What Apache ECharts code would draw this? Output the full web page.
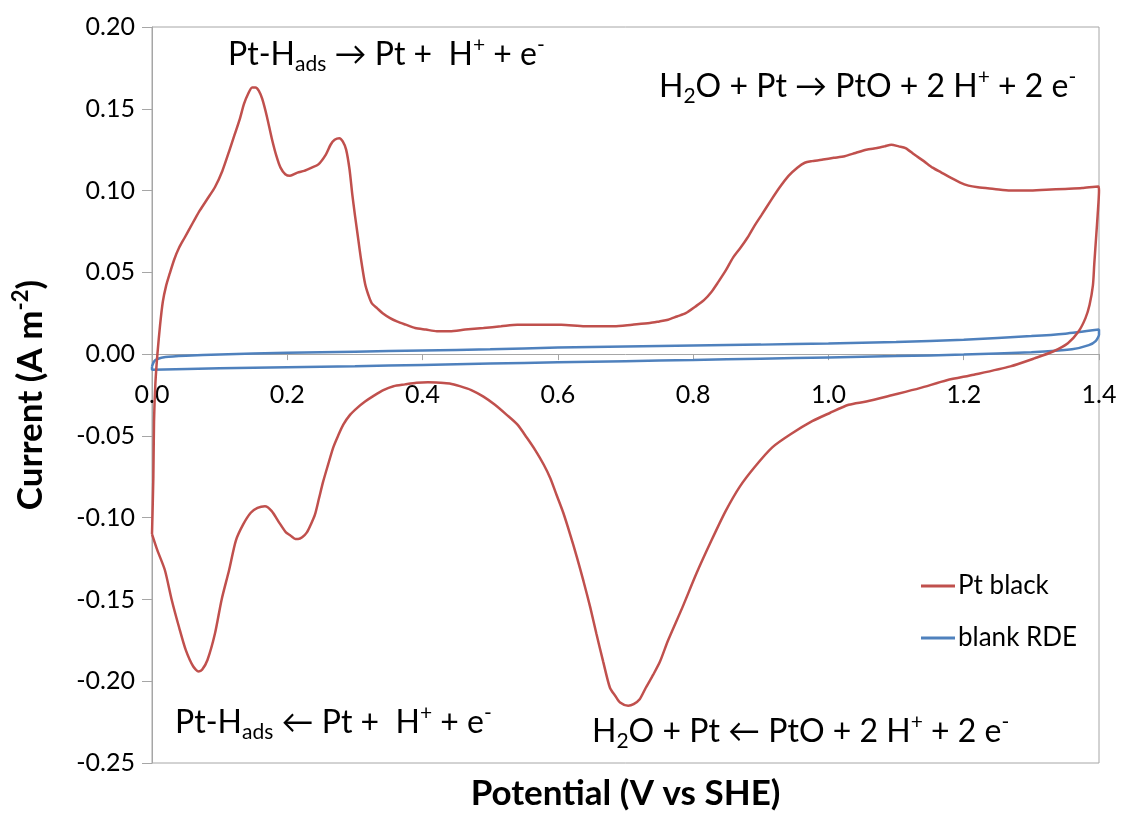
<!DOCTYPE html>
<html>
<head>
<meta charset="utf-8">
<script src="https://cdn.jsdelivr.net/npm/echarts@6/dist/echarts.min.js"></script>
<style>
  html, body { margin: 0; padding: 0; background: #fff; }
  #chart { width: 1125px; height: 818px; }
</style>
</head>
<body>
<div id="chart"></div>
<script>
// Cyclic voltammogram: potential (V vs SHE) and current density (A m^-2), in sweep order
const seriesNames = ['Pt black', 'blank RDE'];

const ptBlackE = [
  0.000, 0.002, 0.003, 0.005, 0.008, 0.012, 0.016, 0.021, 0.026, 0.033, 0.040, 0.048, 0.056, 0.064, 0.071,
  0.082, 0.093, 0.104, 0.114, 0.122, 0.130, 0.136, 0.142, 0.148, 0.153, 0.158, 0.163, 0.170, 0.177, 0.184,
  0.190, 0.197, 0.204, 0.215, 0.225, 0.236, 0.246, 0.257, 0.264, 0.270, 0.277, 0.282, 0.287, 0.292, 0.296,
  0.300, 0.304, 0.309, 0.315, 0.320, 0.325, 0.333, 0.341, 0.352, 0.362, 0.375, 0.389, 0.405, 0.421, 0.440,
  0.463, 0.490, 0.516, 0.540, 0.560, 0.580, 0.605, 0.640, 0.683, 0.710, 0.736, 0.750, 0.763, 0.776, 0.789,
  0.803, 0.816, 0.827, 0.837, 0.848, 0.859, 0.870, 0.880, 0.890, 0.901, 0.915, 0.928, 0.941, 0.954, 0.965,
  0.976, 0.992, 1.008, 1.024, 1.040, 1.056, 1.072, 1.083, 1.093, 1.104, 1.114, 1.127, 1.141, 1.154, 1.167,
  1.180, 1.194, 1.207, 1.221, 1.245, 1.269, 1.295, 1.322, 1.350, 1.375, 1.399,
  1.400, 1.398, 1.396, 1.393, 1.391, 1.386, 1.380, 1.370, 1.354, 1.332, 1.306, 1.269, 1.215, 1.175, 1.135,
  1.095, 1.056, 1.030, 1.002, 0.976, 0.944, 0.917, 0.891, 0.869, 0.848, 0.827, 0.805, 0.784, 0.763, 0.751,
  0.741, 0.730, 0.721, 0.712, 0.704, 0.692, 0.685, 0.677, 0.667, 0.657, 0.648, 0.638, 0.628, 0.618, 0.608,
  0.598, 0.589, 0.579, 0.567, 0.554, 0.540, 0.524, 0.507, 0.490, 0.472, 0.455, 0.440, 0.426, 0.408, 0.391,
  0.374, 0.357, 0.342, 0.327, 0.315, 0.303, 0.293, 0.283, 0.275, 0.268, 0.260, 0.253, 0.247, 0.241, 0.235,
  0.229, 0.222, 0.216, 0.212, 0.205, 0.198, 0.188, 0.177, 0.167, 0.156, 0.146, 0.135, 0.124, 0.114, 0.103,
  0.093, 0.082, 0.074, 0.069, 0.061, 0.050, 0.040, 0.029, 0.019, 0.008, 0.000
];
const ptBlackI = [
  -0.110, -0.075, -0.041, -0.018, 0.000, 0.018, 0.032, 0.042, 0.049, 0.058, 0.065, 0.071, 0.077, 0.083, 0.088,
  0.095, 0.102, 0.112, 0.124, 0.134, 0.144, 0.153, 0.159, 0.163, 0.163, 0.161, 0.156, 0.145, 0.132, 0.121,
  0.114, 0.110, 0.109, 0.111, 0.112, 0.114, 0.116, 0.122, 0.128, 0.131, 0.132, 0.130, 0.125, 0.113, 0.098,
  0.085, 0.073, 0.058, 0.043, 0.036, 0.031, 0.028, 0.025, 0.022, 0.020, 0.018, 0.016, 0.015, 0.014, 0.014,
  0.015, 0.016, 0.017, 0.018, 0.018, 0.018, 0.018, 0.017, 0.017, 0.018, 0.019, 0.020, 0.021, 0.023, 0.025,
  0.029, 0.033, 0.038, 0.044, 0.051, 0.059, 0.065, 0.071, 0.078, 0.085, 0.094, 0.102, 0.109, 0.114, 0.117,
  0.118, 0.119, 0.120, 0.121, 0.123, 0.125, 0.126, 0.127, 0.128, 0.127, 0.126, 0.122, 0.118, 0.114, 0.111,
  0.108, 0.105, 0.103, 0.102, 0.101, 0.100, 0.100, 0.1005, 0.101, 0.1015, 0.1025,
  0.100, 0.085, 0.073, 0.055, 0.042, 0.030, 0.022, 0.014, 0.0067, 0.0016, -0.0024, -0.0075, -0.0126, -0.016, -0.0208,
  -0.025, -0.029, -0.031, -0.036, -0.041, -0.049, -0.057, -0.069, -0.081, -0.096, -0.114, -0.134, -0.155, -0.175, -0.188,
  -0.196, -0.204, -0.211, -0.214, -0.215, -0.213, -0.209, -0.204, -0.188, -0.171, -0.155, -0.139, -0.124, -0.110, -0.097,
  -0.086, -0.076, -0.0675, -0.059, -0.051, -0.043, -0.037, -0.031, -0.026, -0.022, -0.0196, -0.018, -0.0175, -0.0172, -0.0175,
  -0.0185, -0.0196, -0.022, -0.0257, -0.029, -0.033, -0.037, -0.043, -0.050, -0.057, -0.068, -0.078, -0.088, -0.098, -0.104,
  -0.109, -0.112, -0.113, -0.113, -0.111, -0.109, -0.103, -0.096, -0.093, -0.094, -0.097, -0.104, -0.114, -0.132, -0.150,
  -0.171, -0.187, -0.193, -0.194, -0.191, -0.181, -0.167, -0.150, -0.132, -0.120, -0.110
];

const blankE = [
  0.000, 0.003, 0.008, 0.020, 0.050, 0.100, 0.200, 0.300, 0.400, 0.500, 0.600, 0.700, 0.800, 0.900, 1.000,
  1.100, 1.200, 1.300, 1.350, 1.400,
  1.400, 1.395, 1.385, 1.360, 1.300, 1.200, 1.100, 1.000, 0.900, 0.800, 0.700, 0.600, 0.500, 0.400, 0.300,
  0.200, 0.100, 0.000, 0.000
];
const blankI = [
  -0.0075, -0.0045, -0.0030, -0.0018, -0.0010, -0.0002, 0.0008, 0.0015, 0.0022, 0.0030, 0.0040, 0.0047, 0.0053, 0.0058, 0.0065,
  0.0074, 0.0088, 0.0110, 0.0125, 0.0150,
  0.0118, 0.0080, 0.0055, 0.0030, 0.0012, -0.0003, -0.0012, -0.0020, -0.0028, -0.0036, -0.0043, -0.0050, -0.0058, -0.0066, -0.0074,
  -0.0080, -0.0087, -0.0095, -0.0075
];

const xTicks = { min: 0, max: 1.4, step: 0.2 };
const yTicks = { min: -0.25, max: 0.2, step: 0.05 };

const pairs = (xs, ys) => xs.map((x, i) => [x, ys[i]]);

const FONT = 'Lato, "Open Sans", "DejaVu Sans", sans-serif';
const AXIS_GREY = '#a6a6a6';
const RED = '#c0504d';
const BLUE = '#4f81bd';

// plot box in pixels
const GRID = { left: 152, right: 26, top: 27, bottom: 55 };
const plotH = 818 - GRID.top - GRID.bottom;
// lift the potential axis from the bottom edge up to the zero-current line
const zeroOffset = -plotH * (0 - yTicks.min) / (yTicks.max - yTicks.min);

// rich-text styles for the reaction labels (subscripts and superscripts)
const eqRich = {
  n:   { fontFamily: FONT, fontSize: 32, lineHeight: 40, color: '#000' },
  sub: { fontFamily: FONT, fontSize: 21, lineHeight: 12, verticalAlign: 'bottom', color: '#000' },
  sup: { fontFamily: FONT, fontSize: 21, lineHeight: 28, verticalAlign: 'top', color: '#000' }
};

function eqText(left, top, text) {
  return {
    type: 'text',
    left: left,
    top: top,
    style: { text: text, rich: eqRich, font: '32px ' + FONT, fill: '#000' }
  };
}

const chart = echarts.init(document.getElementById('chart'), null, { renderer: 'canvas' });

chart.setOption({
  backgroundColor: '#fff',
  animation: false,
  textStyle: { fontFamily: FONT },
  grid: {
    left: GRID.left, right: GRID.right, top: GRID.top, bottom: GRID.bottom,
    outerBoundsMode: 'none',
    show: true, borderColor: AXIS_GREY, borderWidth: 1, backgroundColor: 'transparent'
  },
  legend: {
    orient: 'vertical',
    left: 916, top: 568,
    itemWidth: 34, itemHeight: 3, itemGap: 26,
    icon: 'rect',
    textStyle: { fontFamily: FONT, fontSize: 26, color: '#000', padding: [0, 0, 0, -2] },
    data: seriesNames
  },
  xAxis: {
    type: 'value',
    position: 'bottom',
    offset: zeroOffset,
    min: xTicks.min, max: xTicks.max, interval: xTicks.step,
    name: 'Potential (V vs SHE)',
    nameLocation: 'middle',
    nameGap: 422,
    nameTextStyle: { fontFamily: FONT, fontSize: 35, fontWeight: 'bold', color: '#000' },
    axisLine: { onZero: false, lineStyle: { color: AXIS_GREY, width: 1 } },
    axisTick: { show: true, length: 6, lineStyle: { color: AXIS_GREY } },
    axisLabel: {
      fontFamily: FONT, fontSize: 25, color: '#000', margin: 28,
      formatter: v => v.toFixed(1)
    },
    splitLine: { show: false }
  },
  yAxis: {
    type: 'value',
    min: yTicks.min, max: yTicks.max, interval: yTicks.step,
    name: '{b|Current (A m}{s|-2}{b|)}',
    nameLocation: 'middle',
    nameRotate: 90,
    nameGap: 100,
    nameTextStyle: {
      rich: {
        b: { fontFamily: FONT, fontSize: 35, fontWeight: 'bold', color: '#000', lineHeight: 42 },
        s: { fontFamily: FONT, fontSize: 22, fontWeight: 'bold', color: '#000', lineHeight: 32, verticalAlign: 'top' }
      }
    },
    axisLine: { show: true, onZero: false, lineStyle: { color: AXIS_GREY, width: 1 } },
    axisTick: { show: true, length: 10, lineStyle: { color: AXIS_GREY } },
    axisLabel: {
      fontFamily: FONT, fontSize: 25, color: '#000', margin: 17,
      formatter: v => v.toFixed(2)
    },
    splitLine: { show: false }
  },
  series: [
    {
      name: seriesNames[0],
      type: 'line',
      data: pairs(ptBlackE, ptBlackI),
      showSymbol: false,
      symbol: 'none',
      smooth: 0.25,
      lineStyle: { color: RED, width: 2.5 },
      itemStyle: { color: RED },
      z: 3
    },
    {
      name: seriesNames[1],
      type: 'line',
      data: pairs(blankE, blankI),
      showSymbol: false,
      symbol: 'none',
      smooth: 0.2,
      lineStyle: { color: BLUE, width: 2.5 },
      itemStyle: { color: BLUE },
      z: 2
    }
  ],
  graphic: [
    eqText(228, 35, '{n|Pt-H}{sub|ads}{n| \u2192 Pt +  H}{sup|+}{n| + e}{sup|-}'),
    eqText(659, 67, '{n|H}{sub|2}{n|O + Pt \u2192 PtO + 2 H}{sup|+}{n| + 2 e}{sup|-}'),
    eqText(175, 703, '{n|Pt-H}{sub|ads}{n| \u2190 Pt +  H}{sup|+}{n| + e}{sup|-}'),
    eqText(592, 712, '{n|H}{sub|2}{n|O + Pt \u2190 PtO + 2 H}{sup|+}{n| + 2 e}{sup|-}')
  ]
});
</script>
</body>
</html>
